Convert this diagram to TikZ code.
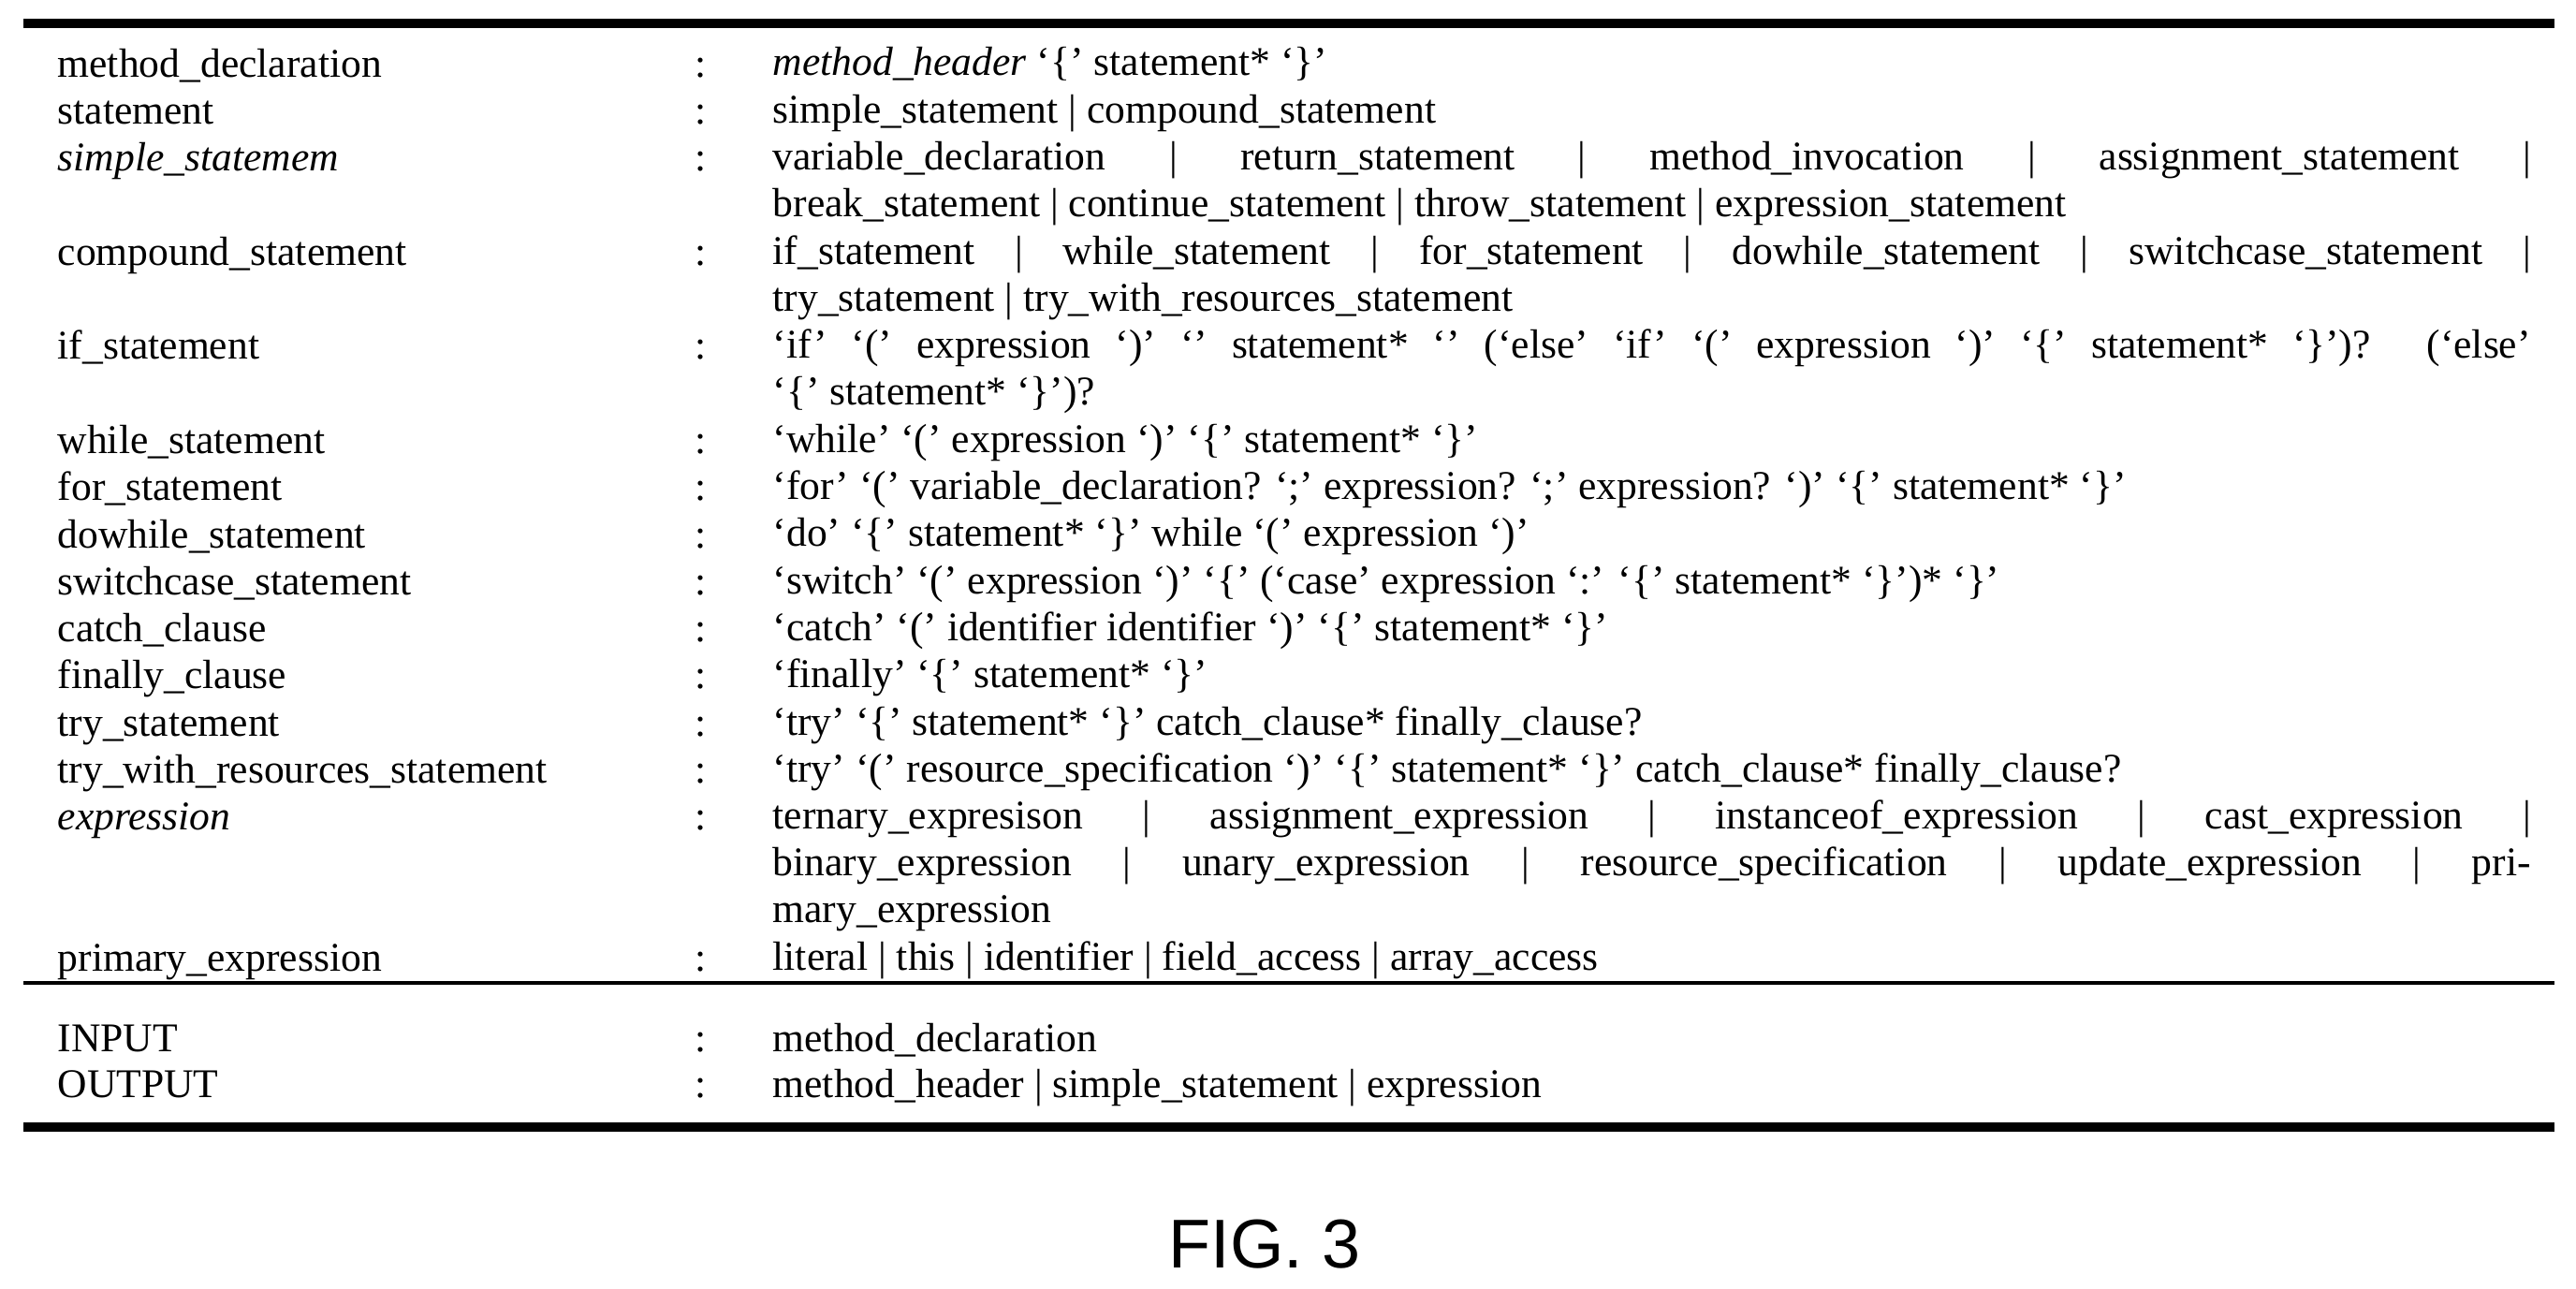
\documentclass[tikz,border=0pt]{standalone}
\usepackage{fontspec}
\setmainfont{Liberation Serif}
\newfontfamily\figfont{Liberation Sans}
\usetikzlibrary{positioning}
\tikzset{
  lhs/.style={anchor=base west, inner sep=0pt, font=\fontsize{12.4}{14.26}\selectfont},
  sep/.style={anchor=base, inner sep=0pt, font=\fontsize{12.4}{14.26}\selectfont},
  rhs/.style={anchor=north west, inner sep=0pt, text width=18.78cm, align=justify,
    font=\fontsize{12.4}{14.26}\selectfont},
  rulethick/.style={line width=2.6pt},
  rulethin/.style={line width=0.9pt}
}
\newcommand{\rowy}[1]{-0.82-0.503*#1}
\begin{document}
\begin{tikzpicture}
  \useasboundingbox (0,0) rectangle (27.52,-13.76);
  % rules
  \coordinate (tl) at (0.25,-0.25); \coordinate (tr) at (27.29,-0.25);
  \coordinate (ml) at (0.25,-10.50); \coordinate (mr) at (27.29,-10.50);
  \coordinate (bl) at (0.25,-12.04); \coordinate (br) at (27.29,-12.04);
  \draw[rulethick] (tl) -- (tr);
  \draw[rulethin] (ml) -- (mr);
  \draw[rulethick] (bl) -- (br);
  % left column and colons
  \foreach \n/\lab in {0/method\_declaration, 1/statement, 2/\textit{simple\_statemem},
      4/compound\_statement, 6/if\_statement, 8/while\_statement, 9/for\_statement,
      10/dowhile\_statement, 11/switchcase\_statement, 12/catch\_clause,
      13/finally\_clause, 14/try\_statement, 15/try\_with\_resources\_statement,
      16/\textit{expression}, 19/primary\_expression}
  {
    \node[lhs] (l\n) at (0.61,{\rowy{\n}}) {\lab};
    \node[sep] (c\n) at (7.49,{\rowy{\n}}) {:};
  }
  % right column
  \newcommand{\rhsat}[2]{\node[rhs] (r#1) at (8.25,{\rowy{#1}+0.37}) {\strut #2};}
  \rhsat{0}{\textit{method\_header} `\{' statement* `\}'}
  \rhsat{1}{simple\_statement | compound\_statement}
  \rhsat{2}{variable\_declaration | return\_statement | method\_invocation | assignment\_statement |\linebreak break\_statement | continue\_statement | throw\_statement | expression\_statement}
  \rhsat{4}{if\_statement | while\_statement | for\_statement | dowhile\_statement | switchcase\_statement |\linebreak try\_statement | try\_with\_resources\_statement}
  \rhsat{6}{`if' `(' expression `)' `' statement* `' (`else' `if' `(' expression `)' `\{' statement* `\}')? (`else'\linebreak `\{' statement* `\}')?}
  \rhsat{8}{`while' `(' expression `)' `\{' statement* `\}'}
  \rhsat{9}{`for' `(' variable\_declaration? `;' expression? `;' expression? `)' `\{' statement* `\}'}
  \rhsat{10}{`do' `\{' statement* `\}' while `(' expression `)'}
  \rhsat{11}{`switch' `(' expression `)' `\{' (`case' expression `:' `\{' statement* `\}')* `\}'}
  \rhsat{12}{`catch' `(' identifier identifier `)' `\{' statement* `\}'}
  \rhsat{13}{`finally' `\{' statement* `\}'}
  \rhsat{14}{`try' `\{' statement* `\}' catch\_clause* finally\_clause?}
  \rhsat{15}{`try' `(' resource\_specification `)' `\{' statement* `\}' catch\_clause* finally\_clause?}
  \rhsat{16}{ternary\_expresison | assignment\_expression | instanceof\_expression | cast\_expression |\linebreak binary\_expression | unary\_expression | resource\_specification | update\_expression | pri-\linebreak mary\_expression}
  \rhsat{19}{literal | this | identifier | field\_access | array\_access}
  % input / output
  \node[lhs] (lin) at (0.61,-11.23) {INPUT};
  \node[sep] (cin) at (7.49,-11.23) {:};
  \node[lhs] (rin) at (8.25,-11.23) {method\_declaration};
  \node[lhs] (lout) at (0.61,-11.72) {OUTPUT};
  \node[sep] (cout) at (7.49,-11.72) {:};
  \node[lhs] (rout) at (8.25,-11.72) {method\_header | simple\_statement | expression};
  % caption
  \node[font=\figfont\fontsize{21}{25}\selectfont] (fig) at (13.51,-13.29) {FIG. 3};
\end{tikzpicture}
\end{document}
